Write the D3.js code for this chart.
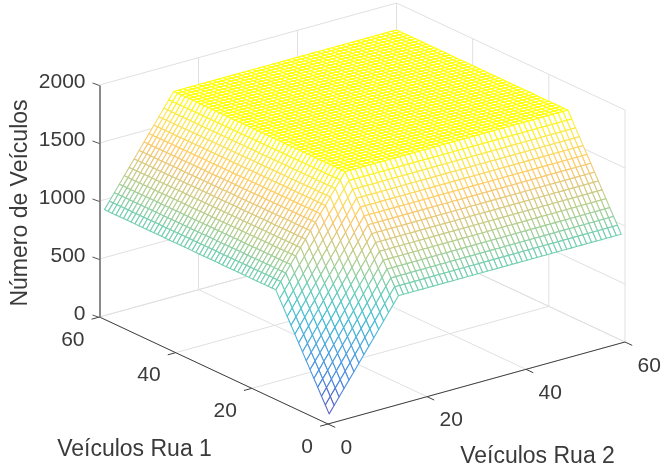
<!DOCTYPE html>
<html lang="en">
<head>
    <meta charset="UTF-8">
    <title>Número de Veículos</title>
    <script src="https://cdn.jsdelivr.net/npm/d3@7"></script>
    <style>
        html,body{margin:0;padding:0;background:#fff;}
        svg{display:block;filter:blur(0.4px);}
        text{font-family:"Liberation Sans",Arial,sans-serif;fill:#3a3a3a;}
    </style>
</head>
<body>
<script>
    var rua2Ticks=[0,20,40,60];
    var rua1Ticks=[0,20,40,60];
    var zTicks=[0,500,1000,1500,2000];
    var gridRua2=[1,2,3,4,5,6,7,8,9,10,11,12,13,14,15,16,17,18,19,20,21,22,23,24,25,26,27,28,29,30,31,32,33,34,35,36,37,38,39,40,41,42,43,44,45,46,47,48,49,50,51,52,53,54,55,56,57,58,59,60];
    var gridRua1=[1,2,3,4,5,6,7,8,9,10,11,12,13,14,15,16,17,18,19,20,21,22,23,24,25,26,27,28,29,30,31,32,33,34,35,36,37,38,39,40,41,42,43,44,45,46,47,48,49,50,51,52,53,54,55,56,57,58,59,60];
    // veiculos que cada rua contribui (satura em 15)
    var fluxoRua2=[30,91,152,213,274,335,396,457,518,579,640,701,762,823,884,884,884,884,884,884,884,884,884,884,884,884,884,884,884,884,884,884,884,884,884,884,884,884,884,884,884,884,884,884,884,884,884,884,884,884,884,884,884,884,884,884,884,884,884,884];
    var fluxoRua1=[30,91,152,213,274,335,396,457,518,579,640,701,762,823,884,884,884,884,884,884,884,884,884,884,884,884,884,884,884,884,884,884,884,884,884,884,884,884,884,884,884,884,884,884,884,884,884,884,884,884,884,884,884,884,884,884,884,884,884,884];
    // parula clareada, como aparece na figura
    var parulaStops=[0,0.125,0.25,0.375,0.5,0.625,0.75,0.8,0.9,1];
    var parulaCores=["#6258bc","#4a8ae0","#4fa3e0","#48bdd6","#6ccfb8","#b4cf90","#eec878","#ffcb6a","#fae55a","#ffff00"];

    var width=672,height=469;
    var origem={x:328,y:424};
    var svg=d3.select("body")
        .append("svg")
        .attr("width",width)
        .attr("height",height);

    // projecao paralela: cada eixo vira um deslocamento em px
    var rua2Px=d3.scaleLinear().domain([0,60]).range([0,297]);
    var rua2Py=d3.scaleLinear().domain([0,60]).range([0,-82]);
    var rua1Px=d3.scaleLinear().domain([0,60]).range([0,-228.5]);
    var rua1Py=d3.scaleLinear().domain([0,60]).range([0,-107]);
    var zPy=d3.scaleLinear().domain([0,2000]).range([0,-232]);

    function projeta(x,y,z){
        return [origem.x+rua2Px(x)+rua1Px(y),origem.y+rua2Py(x)+rua1Py(y)+zPy(z)];
    }
    function linha(a,b){
        return "M"+a[0]+","+a[1]+"L"+b[0]+","+b[1];
    }

    // grade do fundo
    var gGrade=svg.append("g").attr("fill","none").attr("stroke","#e0e0e0").attr("stroke-width",1);
    rua2Ticks.forEach(function(t){
        gGrade.append("path").attr("d",linha(projeta(t,0,0),projeta(t,60,0)));
        gGrade.append("path").attr("d",linha(projeta(t,60,0),projeta(t,60,2000)));
    });
    rua1Ticks.forEach(function(t){
        gGrade.append("path").attr("d",linha(projeta(0,t,0),projeta(60,t,0)));
        gGrade.append("path").attr("d",linha(projeta(60,t,0),projeta(60,t,2000)));
    });
    zTicks.forEach(function(t){
        gGrade.append("path").attr("d",linha(projeta(0,60,t),projeta(60,60,t)));
        gGrade.append("path").attr("d",linha(projeta(60,60,t),projeta(60,0,t)));
    });

    // eixos do chao
    var gEixos=svg.append("g").attr("fill","none").attr("stroke","#404040").attr("stroke-width",1);
    gEixos.append("path").attr("d",linha(projeta(0,0,0),projeta(60,0,0)));
    gEixos.append("path").attr("d",linha(projeta(0,0,0),projeta(0,60,0)));
    rua2Ticks.forEach(function(t){
        gEixos.append("path").attr("d",linha(projeta(t,0,0),projeta(t,-1.9,0)));
    });
    rua1Ticks.forEach(function(t){
        gEixos.append("path").attr("d",linha(projeta(0,t,0),projeta(-1.6,t,0)));
    });

    svg.selectAll(".rua2Label").data(rua2Ticks).enter().append("text")
        .attr("class","rua2Label")
        .attr("x",function(d){return projeta(d,0,0)[0]+12.5;})
        .attr("y",function(d){return projeta(d,0,0)[1]+29.5;})
        .attr("font-size",21)
        .text(function(d){return d;});
    svg.selectAll(".rua1Label").data(rua1Ticks).enter().append("text")
        .attr("class","rua1Label")
        .attr("x",function(d){return projeta(0,d,0)[0]-15;})
        .attr("y",function(d){return projeta(0,d,0)[1]+28.5;})
        .attr("text-anchor","end")
        .attr("font-size",21)
        .text(function(d){return d;});

    // eixo z
    var zScale=d3.scaleLinear().domain([0,2000]).range([origem.y+rua1Py(60),origem.y+rua1Py(60)+zPy(2000)]);
    var zAxis=d3.axisLeft(zScale).tickValues(zTicks).tickFormat(d3.format("d")).tickSize(0).tickPadding(14);
    var gZ=svg.append("g")
        .attr("transform","translate("+projeta(0,60,0)[0]+",0)")
        .call(zAxis);
    gZ.select(".domain").attr("stroke","#8a8a8a").attr("stroke-width",2);
    gZ.selectAll(".tick line")
        .attr("x2",-7).attr("y2",-2.5)
        .attr("stroke","#555");
    gZ.selectAll(".tick text")
        .attr("font-size",21)
        .attr("dy","0.32em")
        .attr("transform","translate(0,-4)");
    gZ.attr("font-family",null).attr("font-size",null);

    // malha: pinta de tras para a frente, face branca esconde o que esta atras
    var quads=[];
    gridRua2.slice(0,-1).forEach(function(x,i){
        gridRua1.slice(0,-1).forEach(function(y,j){
            var zs=[fluxoRua2[i]+fluxoRua1[j],fluxoRua2[i+1]+fluxoRua1[j],fluxoRua2[i+1]+fluxoRua1[j+1],fluxoRua2[i]+fluxoRua1[j+1]];
            quads.push({
                ordem:x+y,
                z:d3.mean(zs),
                pts:[projeta(x,y,zs[0]),projeta(gridRua2[i+1],y,zs[1]),projeta(gridRua2[i+1],gridRua1[j+1],zs[2]),projeta(x,gridRua1[j+1],zs[3])]
            });
        });
    });
    quads.sort(function(a,b){return b.ordem-a.ordem;});

    var zMin=fluxoRua2[0]+fluxoRua1[0],zMax=d3.max(fluxoRua2)+d3.max(fluxoRua1);
    var tScale=d3.scaleLinear().domain([zMin,zMax]).range([0,1]);
    var corScale=d3.scaleLinear().domain(parulaStops).range(parulaCores);

    svg.append("g").attr("class","malha")
        .selectAll("path").data(quads).enter().append("path")
        .attr("d",function(d){return "M"+d.pts.join("L")+"Z";})
        .attr("fill","#fff")
        .attr("stroke",function(d){return corScale(tScale(d.z));})
        .attr("stroke-width",1.1)
        .attr("stroke-linejoin","round");

    // titulos dos eixos
    svg.append("text").attr("x",134.5).attr("y",456).attr("text-anchor","middle").attr("font-size",23).text("Veículos Rua 1");
    svg.append("text").attr("x",537.5).attr("y",463).attr("text-anchor","middle").attr("font-size",23).text("Veículos Rua 2");
    svg.append("text").attr("transform","translate(27,203) rotate(-90)").attr("text-anchor","middle").attr("font-size",23).text("Número de Veículos");
</script>
</body>
</html>
